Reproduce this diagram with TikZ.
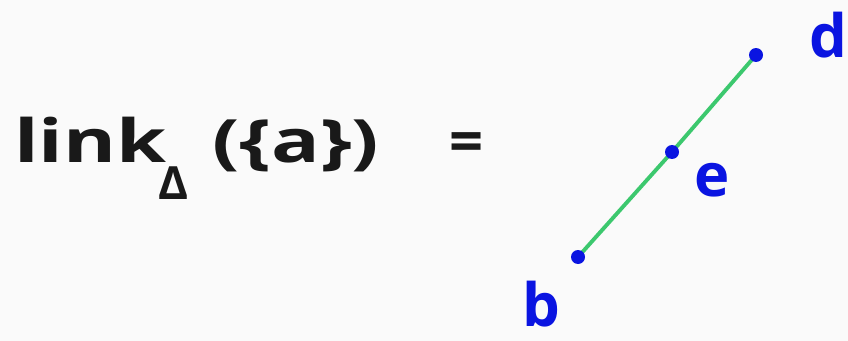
\documentclass[tikz,border=0pt]{standalone}
\usepackage{fontspec}
\setmainfont{Open Sans}
\usepackage{xcolor}
\definecolor{penblue}{RGB}{10,20,225}
\definecolor{pengreen}{RGB}{60,200,110}
\definecolor{inkblack}{RGB}{25,25,25}
\usetikzlibrary{positioning,backgrounds}

\begin{document}
\begin{tikzpicture}[
      x=0.02cm, y=-0.02cm,
      word/.style={inner sep=0pt, text=inkblack, font=\fontsize{34}{38}\selectfont\bfseries},
      label/.style={inner sep=0pt, text=penblue, font=\fontsize{34}{38}\selectfont\bfseries},
      vertex/.style={circle, fill=penblue, inner sep=0pt, minimum size=0.28cm},
      edge/.style={draw=pengreen, line width=2.2pt, line cap=round}
      ]
      \useasboundingbox (0,0) rectangle (848,341);

      % Left side
      \node (link) [word, anchor=base west] at (14,162) {\scalebox{1.35}[1]{link}};
      \node (delta) [word, anchor=base west, font=\fontsize{26}{30}\selectfont\bfseries] at (158,199) {Δ};
      \node (arg) [word, anchor=base west] at (212,162) {\scalebox{1.35}[1]{(\{a\})}};
      \node (eq) [word, anchor=center] at (467,148) {=};

      % Vertices
      \node (b) [vertex] at (578,257) {};
      \node (e) [vertex] at (672,152) {};
      \node (d) [vertex] at (756,55) {};

      % Labels
      \node (lb) [label, anchor=base] at (541,326) {b};
      \node (le) [label, anchor=base] at (712,196) {e};
      \node (ld) [label, anchor=base] at (828,58) {d};

      % Edge
      \begin{pgfonlayer}{background}
        \fill [white!98!black] (0,0) rectangle (848,341);
        \draw [edge] (b.center) -- (e.center) -- (d.center);
      \end{pgfonlayer}

    \end{tikzpicture}
\end{document}
